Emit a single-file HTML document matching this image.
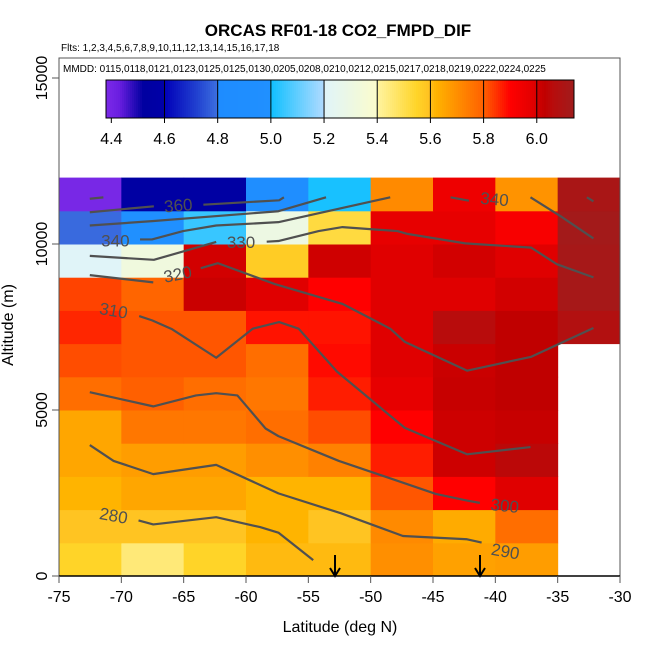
<!DOCTYPE html>
<html><head><meta charset="utf-8"><style>
body{margin:0;background:#fff;font-family:"Liberation Sans",sans-serif}
svg text{font-family:"Liberation Sans",sans-serif}
</style></head><body>
<svg id="chart" width="650" height="650" viewBox="0 0 650 650" xmlns="http://www.w3.org/2000/svg">
<rect width="650" height="650" fill="#fff"/>
<text x="338" y="36" text-anchor="middle" font-size="17" font-weight="bold">ORCAS RF01-18 CO2_FMPD_DIF</text>
<text x="61" y="51" font-size="10">Flts: 1,2,3,4,5,6,7,8,9,10,11,12,13,14,15,16,17,18</text>
<g id="cells"></g>
<g id="contours"></g>
<g id="cbar"></g>
<text x="63" y="72" font-size="10">MMDD: 0115,0118,0121,0123,0125,0125,0130,0205,0208,0210,0212,0215,0217,0218,0219,0222,0224,0225</text>
<g id="axes"></g>
<text x="340" y="632" text-anchor="middle" font-size="16">Latitude (deg N)</text>
<text transform="translate(13,325) rotate(-90)" text-anchor="middle" font-size="16">Altitude (m)</text>
</svg>
<script>
const latEdges=[-75,-70,-65,-60,-55,-50,-45,-40,-35,-30];
const altEdges=[0,1000,2000,3000,4000,5000,6000,7000,8000,9000,10000,11000,12000];
// rows bottom (0-1000 m) to top (11000-12000 m); null = no data
const cellValues=[
[5.55,5.45,5.55,5.61,5.61,5.70,5.66,5.67,null],
[5.59,5.59,5.59,5.62,5.59,5.71,5.64,5.77,null],
[5.62,5.65,5.65,5.62,5.62,5.81,5.9,5.99,null],
[5.65,5.67,5.67,5.70,5.73,5.87,6.01,6.05,null],
[5.65,5.75,5.75,5.77,5.82,5.9,6.01,6.02,null],
[5.77,5.8,5.77,5.75,5.87,5.97,6.02,6.03,null],
[5.82,5.81,5.81,5.77,5.89,5.99,6.015,6.03,null],
[5.86,5.81,5.81,5.88,5.88,5.99,6.06,6.03,6.08],
[5.83,5.79,6.015,5.99,5.9,5.99,5.99,6.003,6.12],
[5.21,5.32,6.003,5.57,6.007,5.99,6.003,5.99,6.12],
[4.79,5.0,5.05,5.3,5.52,5.97,5.97,5.92,6.13],
[4.39,4.55,4.55,4.9,5.01,5.71,5.95,5.69,6.11]
];
const cbarTicks=[4.4,4.6,4.8,5.0,5.2,5.4,5.6,5.8,6.0];
const cbarRange=[4.38,6.14];
const xTicks=[-75,-70,-65,-60,-55,-50,-45,-40,-35,-30];
const yTicks=[0,5000,10000,15000];
const arrowLats=[-52.86,-41.23];
// contour polylines [lat, alt]
const contourLines=[
[[-72.53,11363],[-71.44,11405]],
[[-72.53,10957],[-67.39,11136]],
[[-63.42,11184],[-57.34,11316],[-56.96,11405]],
[[-72.53,10557],[-67.53,10688],[-57.40,10987],[-53.58,11405]],
[[-68.50,10138],[-67.54,10138],[-65.04,10389],[-62.39,10557],[-57.40,10658],[-48.43,11405]],
[[-43.59,11405],[-42.12,11304]],
[[-37.18,11405],[-34.77,10837],[-32.13,10168]],
[[-32.66,11405],[-32.13,11286]],
[[-72.53,9642],[-67.39,9523],[-62.39,10061]],
[[-58.34,10070],[-57.40,10090],[-54.17,10389],[-52.26,10509],[-47.85,10389],[-47.12,10309],[-42.41,10019],[-37.12,9890],[-35.07,9391],[-32.13,8994]],
[[-72.53,9063],[-67.44,8844]],
[[-63.63,9272],[-62.25,9421],[-57.69,8794],[-52.26,8196],[-48.43,7449],[-47.26,7052],[-42.27,6185],[-37.12,6603],[-32.13,7470]],
[[-68.57,7829],[-67.53,7700],[-65.92,7431],[-62.39,6574],[-59.46,7449],[-57.34,7649],[-55.78,7449],[-53.29,6403],[-52.70,6155],[-47.26,4461],[-42.27,3666],[-37.18,3884]],
[[-72.53,5537],[-67.44,5109],[-64.01,5438],[-62.39,5507],[-60.69,5438],[-58.43,4443],[-57.40,4213],[-52.55,3466],[-47.85,2868],[-44.77,2471],[-42.27,2271],[-41.24,2202]],
[[-72.53,3944],[-70.62,3466],[-67.44,3069],[-62.39,3347],[-57.40,2489],[-52.40,1891],[-47.41,1204],[-42.27,1106],[-41.10,1007]],
[[-68.62,1673],[-67.44,1554],[-62.39,1772],[-58.87,1473],[-57.40,1306],[-54.61,478]]
];
const contourLabels=['360','340','340','330','320','310','300','290','280'];
const labelPos=[[-65.43,11166],[-70.48,10109],[-40.06,11354],[-60.40,10061],[-65.48,9093],[-70.62,7999],[-39.24,2121],[-39.19,747],[-70.62,1823]];
const labelRot=[-5,0,5,0,-12,10,6,10,10];

const X0=59,X1=620,Y0=576,Y15=78;
const xs=v=>X0+(v+75)/45*(X1-X0);
const ys=v=>Y0-v/15000*(Y0-Y15);
const stops=[[4.38,'#7b2ae8'],[4.43,'#6a1ee0'],[4.52,'#0000a0'],[4.6,'#0000a8'],[4.6,'#0000b8'],[4.72,'#2040d0'],[4.8,'#3c70e0'],[4.8,'#1e8cff'],[5.0,'#2090ff'],[5.0,'#10c0ff'],[5.2,'#b0daff'],[5.2,'#dff4fa'],[5.4,'#fbfccc'],[5.4,'#fff4a0'],[5.55,'#ffd428'],[5.6,'#ffc020'],[5.62,'#ffb400'],[5.8,'#ff6000'],[5.9,'#ff0000'],[5.99,'#e00000'],[6.0,'#d40000'],[6.03,'#c00000'],[6.06,'#b80c0c'],[6.14,'#a01c1c']];
function hx(c){return [1,3,5].map(i=>parseInt(c.substr(i,2),16));}
function cmap(v){
  if(v<=stops[0][0])return stops[0][1];
  for(let i=1;i<stops.length;i++){
    if(v<=stops[i][0]){const a=stops[i-1],b=stops[i];const t=b[0]===a[0]?1:(v-a[0])/(b[0]-a[0]);
      const ca=hx(a[1]),cb=hx(b[1]);return 'rgb('+ca.map((x,k)=>Math.round(x+(cb[k]-x)*t)).join(',')+')';}
  }
  return stops[stops.length-1][1];
}
const NS='http://www.w3.org/2000/svg';
function mk(tag,attrs,parent){const e=document.createElementNS(NS,tag);for(const k in attrs)e.setAttribute(k,attrs[k]);parent.appendChild(e);return e;}
const gc=document.getElementById('cells');
cellValues.forEach((row,r)=>row.forEach((v,c)=>{
  if(v===null)return;
  const x=xs(latEdges[c]),x2=xs(latEdges[c+1]),y=ys(altEdges[r+1]),y2=ys(altEdges[r]);
  const e=mk('rect',{x:x,y:y,width:x2-x+0.5,height:y2-y+0.5,fill:cmap(v)},gc);
  
  
}));
const gl=document.getElementById('contours');
contourLines.forEach(line=>{
  const e=mk('polyline',{points:line.map(p=>xs(p[0])+','+ys(p[1])).join(' '),fill:'none',stroke:'#505050','stroke-width':2.2,'stroke-linejoin':'round'},gl);
  
  
});
contourLabels.forEach((t,i)=>{
  const x=xs(labelPos[i][0]),y=ys(labelPos[i][1]);
  const e=mk('text',{x:x,y:y+6,'text-anchor':'middle','font-size':17,fill:'#505050',transform:'rotate('+labelRot[i]+' '+x+' '+y+')'},gl);
  e.textContent=t;
  
  
});
const gb=document.getElementById('cbar');
const CB0=106,CB1=574,CBT=80,CBB=118;
const cbx=v=>CB0+(v-cbarRange[0])/(cbarRange[1]-cbarRange[0])*(CB1-CB0);
for(let i=0;i<234;i++){const v=cbarRange[0]+(i+0.5)/234*(cbarRange[1]-cbarRange[0]);
  mk('rect',{x:CB0+i*2,y:CBT,width:2.2,height:CBB-CBT,fill:cmap(v)},gb);}
mk('rect',{x:CB0,y:CBT,width:CB1-CB0,height:CBB-CBT,fill:'none',stroke:'#000','stroke-width':1},gb);
cbarTicks.forEach(t=>{const x=cbx(t);
  if(t>4.5)mk('line',{x1:x,x2:x,y1:CBT,y2:CBB,stroke:'#000','stroke-width':1},gb);
  mk('line',{x1:x,x2:x,y1:CBB,y2:CBB+5,stroke:'#000'},gb);
  const e=mk('text',{x:x,y:144,'text-anchor':'middle','font-size':16},gb);e.textContent=t.toFixed(1);
  
  
});
const ga=document.getElementById('axes');
mk('rect',{x:X0,y:58,width:X1-X0,height:Y0-58,fill:'none',stroke:'#555','stroke-width':1},ga);
mk('line',{x1:X0,x2:X1,y1:Y0,y2:Y0,stroke:'#000','stroke-width':1.5},ga);
xTicks.forEach(t=>{const x=xs(t);
  mk('line',{x1:x,x2:x,y1:Y0,y2:Y0+7,stroke:'#555'},ga);
  const e=mk('text',{x:x,y:602,'text-anchor':'middle','font-size':16},ga);e.textContent=t;
  
  
});
yTicks.forEach(t=>{const y=ys(t);
  mk('line',{x1:X0-7,x2:X0,y1:y,y2:y,stroke:'#555'},ga);
  const e=mk('text',{x:0,y:0,'text-anchor':'middle','font-size':16,transform:'translate(47,'+y+') rotate(-90)'},ga);e.textContent=t;
  
  
});
arrowLats.forEach(a=>{const x=xs(a);
  const e=mk('path',{d:'M'+x+' 555 L'+x+' 576 M'+(x-5)+' 568 L'+x+' 576 L'+(x+5)+' 568',stroke:'#000','stroke-width':2,fill:'none'},ga);
  
  
});
</script>
</body></html>
